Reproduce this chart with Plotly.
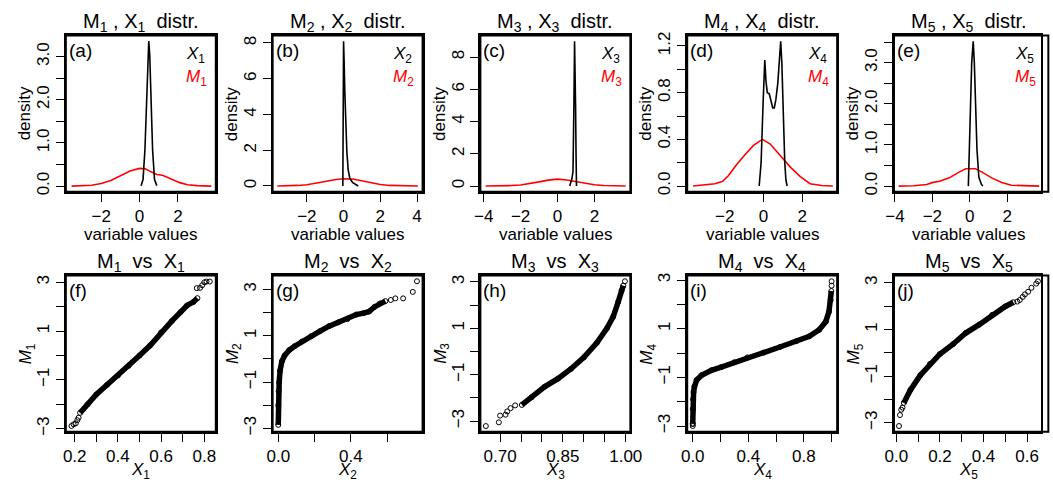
import plotly.graph_objects as go

W, H = 1053, 487

# ---------------- top row: density curves ----------------
a_X_x = [0.08, 0.18, 0.28, 0.33, 0.38, 0.43, 0.48, 0.53, 0.58, 0.63, 0.68, 0.78, 0.90]
a_X_y = [0.01, 0.15, 0.84, 1.50, 2.37, 3.05, 3.36, 3.05, 2.37, 1.50, 0.84, 0.15, 0.01]
a_M_x = [-3.55, -3.0, -2.5, -2.0, -1.5, -1.0, -0.5, 0.0, 0.3, 0.6, 0.9, 1.2, 1.5, 1.8, 2.1, 2.5, 3.0, 3.75]
a_M_y = [0.0, 0.005, 0.02, 0.06, 0.13, 0.24, 0.35, 0.41, 0.40, 0.33, 0.27, 0.25, 0.19, 0.13, 0.08, 0.03, 0.01, 0.0]

b_X_x = [-0.04, -0.01, 0.0, 0.03, 0.07, 0.12, 0.18, 0.25, 0.35, 0.5, 0.65, 0.8]
b_X_y = [0.0, 4.0, 8.1, 7.0, 5.2, 3.3, 1.9, 0.9, 0.4, 0.18, 0.08, 0.0]
b_M_x = [-3.6, -3.0, -2.5, -2.0, -1.5, -1.0, -0.5, 0.0, 0.5, 1.0, 1.5, 2.0, 2.5, 3.0, 3.5, 4.05]
b_M_y = [0.0, 0.01, 0.03, 0.07, 0.14, 0.25, 0.35, 0.40, 0.39, 0.29, 0.17, 0.08, 0.03, 0.01, 0.003, 0.0]

c_X_x = [0.66, 0.71, 0.78, 0.84, 0.87, 0.89, 0.925, 0.95, 0.98, 1.005, 1.03]
c_X_y = [0.0, 0.16, 0.45, 0.9, 2.6, 5.1, 8.98, 7.6, 5.0, 2.0, 0.0]
c_M_x = [-3.9, -3.0, -2.5, -2.0, -1.5, -1.0, -0.5, 0.0, 0.5, 1.0, 1.5, 2.0, 2.5, 3.0, 3.7]
c_M_y = [0.0, 0.01, 0.03, 0.07, 0.15, 0.26, 0.37, 0.43, 0.38, 0.27, 0.16, 0.08, 0.03, 0.01, 0.0]

d_X_x = [-0.22, -0.12, -0.02, 0.07, 0.13, 0.2, 0.3, 0.4, 0.48, 0.56, 0.64, 0.74, 0.82, 0.89, 0.95, 1.02, 1.1, 1.16, 1.22]
d_X_y = [0.0, 0.2, 0.7, 1.08, 0.9, 0.8, 0.79, 0.72, 0.67, 0.67, 0.74, 0.88, 1.1, 1.24, 1.05, 0.62, 0.2, 0.05, 0.0]
d_M_x = [-3.63, -3.0, -2.5, -2.1, -1.8, -1.4, -1.0, -0.5, -0.05, 0.35, 0.7, 1.05, 1.4, 1.9, 2.4, 3.0, 3.58]
d_M_y = [0.0, 0.01, 0.02, 0.04, 0.09, 0.18, 0.26, 0.35, 0.40, 0.36, 0.29, 0.22, 0.16, 0.08, 0.02, 0.005, 0.0]

e_X_x = [-0.08, -0.02, 0.04, 0.1, 0.18, 0.24, 0.3, 0.38, 0.48, 0.56, 0.62, 0.69]
e_X_y = [0.0, 0.8, 2.0, 3.0, 3.52, 3.0, 2.0, 0.9, 0.22, 0.08, 0.04, 0.0]
e_M_x = [-3.8, -3.0, -2.3, -1.97, -1.61, -1.1, -0.57, -0.22, 0.3, 0.65, 1.17, 1.7, 2.22, 3.0, 3.7]
e_M_y = [0.0, 0.01, 0.04, 0.09, 0.12, 0.2, 0.34, 0.42, 0.42, 0.34, 0.2, 0.09, 0.02, 0.005, 0.0]

# ---------------- bottom row: M vs X (dense band + sparse points) ----------------
f_dense_x = [0.225, 0.26, 0.3, 0.35, 0.4, 0.45, 0.5, 0.55, 0.6, 0.65, 0.69, 0.72, 0.75, 0.768]
f_dense_y = [-2.35, -2.0, -1.6, -1.2, -0.82, -0.42, 0.0, 0.42, 0.95, 1.42, 1.78, 2.05, 2.2, 2.35]
f_sparse_x = [0.185, 0.195, 0.205, 0.212, 0.218, 0.765, 0.78, 0.79, 0.80, 0.81, 0.825]
f_sparse_y = [-2.89, -2.82, -2.78, -2.65, -2.55, 2.76, 2.77, 2.88, 3.0, 3.03, 3.03]

g_dense_x = [0.0, 0.0, 0.002, 0.005, 0.01, 0.02, 0.035, 0.06, 0.09, 0.13, 0.18, 0.23, 0.28, 0.33, 0.38, 0.43, 0.47, 0.5, 0.53, 0.56, 0.59]
g_dense_y = [-2.85, -2.0, -1.4, -1.0, -0.5, -0.1, 0.15, 0.38, 0.55, 0.75, 0.98, 1.2, 1.42, 1.58, 1.72, 1.92, 1.98, 2.05, 2.25, 2.4, 2.5]
g_sparse_x = [0.62, 0.645, 0.688, 0.741, 0.764]
g_sparse_y = [2.55, 2.62, 2.62, 2.9, 3.36]

h_dense_x = [0.752, 0.775, 0.806, 0.838, 0.869, 0.90, 0.931, 0.955, 0.970, 0.982, 0.990, 0.994]
h_dense_y = [-2.3, -1.97, -1.52, -1.17, -0.75, -0.25, 0.38, 1.0, 1.5, 2.14, 2.63, 2.84]
h_sparse_x = [0.666, 0.697, 0.700, 0.713, 0.717, 0.725, 0.736, 0.998]
h_sparse_y = [-3.21, -3.05, -2.76, -2.72, -2.58, -2.44, -2.32, 3.03]

i_dense_x = [0.0, 0.0, 0.002, 0.006, 0.012, 0.028, 0.064, 0.134, 0.205, 0.299, 0.393, 0.511, 0.628, 0.746, 0.84, 0.911, 0.958, 0.981, 0.993, 0.998]
i_dense_y = [-2.9, -2.3, -1.9, -1.6, -1.38, -1.11, -0.91, -0.71, -0.58, -0.38, -0.18, 0.02, 0.25, 0.49, 0.69, 0.96, 1.29, 1.7, 2.17, 2.55]
i_sparse_x = [0.0, 0.0, 1.0, 1.0]
i_sparse_y = [-3.0, -2.92, 2.77, 2.95]

j_dense_x = [0.034, 0.0645, 0.11, 0.1545, 0.2, 0.26, 0.32, 0.38, 0.44, 0.50, 0.537]
j_dense_y = [-2.15, -1.59, -0.96, -0.47, -0.05, 0.37, 0.86, 1.21, 1.63, 1.99, 2.17]
j_sparse_x = [0.012, 0.0165, 0.0225, 0.028, 0.555, 0.567, 0.58, 0.59, 0.605, 0.62, 0.642, 0.65]
j_sparse_y = [-3.14, -2.67, -2.44, -2.35, 2.2, 2.27, 2.4, 2.51, 2.62, 2.79, 2.97, 3.07]

# ---------------- ticks ----------------
MINUS = "\u2212"
top_xticks = [[-2, 0, 2], [-2, 0, 2, 4], [-4, -2, 0, 2], [-2, 0, 2], [-4, -2, 0, 2]]
top_yticks = [
    [0, 0.5, 1.0, 1.5, 2.0, 2.5, 3.0],
    [0, 2, 4, 6, 8],
    [0, 2, 4, 6, 8],
    [0, 0.2, 0.4, 0.6, 0.8, 1.0, 1.2],
    [0, 0.5, 1.0, 1.5, 2.0, 2.5, 3.0, 3.5],
]
top_ylabels = [
    ["0.0", " ", "1.0", " ", "2.0", " ", "3.0"],
    ["0", "2", "4", "6", "8"],
    ["0", "2", "4", "6", "8"],
    ["0.0", " ", "0.4", " ", "0.8", " ", "1.2"],
    ["0.0", " ", "1.0", " ", "2.0", " ", "3.0", " "],
]
bot_yticks = [-3, -2, -1, 0, 1, 2, 3]
bot_ylabels = [MINUS + "3", " ", MINUS + "1", " ", "1", " ", "3"]
bot_xticks = [
    [0.2, 0.3, 0.4, 0.5, 0.6, 0.7, 0.8],
    [0.0, 0.2, 0.4, 0.6],
    [0.70, 0.75, 0.80, 0.85, 0.90, 0.95, 1.00],
    [0.0, 0.2, 0.4, 0.6, 0.8, 1.0],
    [0.0, 0.1, 0.2, 0.3, 0.4, 0.5, 0.6],
]
bot_xlabels = [
    ["0.2", " ", "0.4", " ", "0.6", " ", "0.8"],
    ["0.0", " ", "0.4", " "],
    ["0.70", " ", " ", "0.85", " ", " ", "1.00"],
    ["0.0", " ", "0.4", " ", "0.8", " "],
    ["0.0", " ", "0.2", " ", "0.4", " ", "0.6"],
]

top_xrange = [[-3.85, 3.98], [-3.86, 4.3], [-4.18, 3.95], [-3.93, 3.8], [-4.05, 3.8]]
top_yrange = [[-0.134, 3.49], [-0.33, 8.42], [-0.36, 9.34], [-0.05, 1.29], [-0.14, 3.66]]
bot_xrange = [[0.159, 0.853], [-0.031, 0.795], [0.653, 1.011], [-0.04, 1.04], [-0.011, 0.664]]
bot_yrange = [[-3.13, 3.28], [-3.15, 3.61], [-3.46, 3.28], [-3.24, 3.19], [-3.39, 3.32]]

letters_top = ["(a)", "(b)", "(c)", "(d)", "(e)"]
letters_bot = ["(f)", "(g)", "(h)", "(i)", "(j)"]

top_data = [(a_X_x, a_X_y, a_M_x, a_M_y), (b_X_x, b_X_y, b_M_x, b_M_y),
            (c_X_x, c_X_y, c_M_x, c_M_y), (d_X_x, d_X_y, d_M_x, d_M_y),
            (e_X_x, e_X_y, e_M_x, e_M_y)]
bot_data = [(f_dense_x, f_dense_y, f_sparse_x, f_sparse_y),
            (g_dense_x, g_dense_y, g_sparse_x, g_sparse_y),
            (h_dense_x, h_dense_y, h_sparse_x, h_sparse_y),
            (i_dense_x, i_dense_y, i_sparse_x, i_sparse_y),
            (j_dense_x, j_dense_y, j_sparse_x, j_sparse_y)]

# ---------------- layout geometry (pixels) ----------------
BOX_L = [58, 269, 481, 692, 903]
BOX_W = 153
TOP_T, TOP_B = 32, 191
BOT_T, BOT_B = 276, 435

FONT = "Liberation Sans, Arial, sans-serif"
TICKF = dict(family=FONT, size=17, color="black")

fig = go.Figure()
layout = dict(
    width=W, height=H, margin=dict(l=0, r=0, t=0, b=0),
    paper_bgcolor="white", plot_bgcolor="rgba(0,0,0,0)", showlegend=False,
    font=dict(family=FONT, color="black"),
)
annotations = []
shapes = []


def ax_name(idx):
    return "" if idx == 0 else str(idx + 1)


def add_ann(text, px, py, size=17, color="black", angle=0, xanchor="center", yanchor="middle"):
    annotations.append(dict(
        text=text, x=px / W, y=1 - py / H, xref="paper", yref="paper",
        showarrow=False, textangle=angle, xanchor=xanchor, yanchor=yanchor,
        font=dict(family=FONT, size=size, color=color),
    ))


for row in range(2):
    for col in range(5):
        idx = row * 5 + col
        n = ax_name(idx)
        left = BOX_L[col]
        right = min(left + BOX_W, W)
        t, b = (TOP_T, TOP_B) if row == 0 else (BOT_T, BOT_B)
        if row == 0:
            xt = top_xticks[col]
            xl = [str(v).replace("-", MINUS) for v in xt]
            yt, yl = top_yticks[col], top_ylabels[col]
            xr, yr = top_xrange[col], top_yrange[col]
        else:
            xt, xl = bot_xticks[col], bot_xlabels[col]
            yt, yl = bot_yticks, bot_ylabels
            xr, yr = bot_xrange[col], bot_yrange[col]
        common = dict(showline=True, mirror=True, linecolor="#000000", linewidth=2,
                      ticks="outside", ticklen=8, tickwidth=1.2, tickcolor="#000000",
                      showgrid=False, zeroline=False, tickfont=TICKF, tickmode="array",
                      layer="above traces")
        layout["xaxis" + n] = dict(common, domain=[left / W, right / W], range=xr,
                                   tickvals=xt, ticktext=xl, anchor="y" + n)
        layout["yaxis" + n] = dict(common, domain=[1 - b / H, 1 - t / H], range=yr,
                                   tickvals=yt, ticktext=yl, anchor="x" + n, tickangle=-90)
        # frame rectangle, in axis-domain units, drawn above the traces
        shapes.append(dict(type="rect", xref=f"x{n} domain", yref=f"y{n} domain",
                           x0=0, x1=1.0 if col < 4 else 1.05, y0=0, y1=1,
                           line=dict(color="#000000", width=2), layer="above"))

        xa, ya = "x" + n, "y" + n
        k = col + 1
        cx = (left + left + BOX_W) / 2
        if row == 0:
            xX, yX, xM, yM = top_data[col]
            fig.add_trace(go.Scatter(x=xM, y=yM, mode="lines", xaxis=xa, yaxis=ya,
                                     line=dict(color="#ff0000", width=1.6)))
            fig.add_trace(go.Scatter(x=xX, y=yX, mode="lines", xaxis=xa, yaxis=ya,
                                     line=dict(color="black", width=1.6)))
            add_ann(f"M<sub>{k}</sub> , X<sub>{k}</sub>\u00a0\u00a0distr.", cx, 19, size=20)
            add_ann("variable values", cx, 234)
            add_ann("density", left - 42, (t + b) / 2, angle=-90)
            add_ann(letters_top[col], left + 1, t + 15, size=19, xanchor="left")
            add_ann(f"<i>X</i><sub>{k}</sub>", left + BOX_W - 32, t + 20, size=17, xanchor="left")
            add_ann(f"<i>M</i><sub>{k}</sub>", left + BOX_W - 32, t + 43, size=17,
                    color="#ff0000", xanchor="left")
        else:
            dx, dy, sx, sy = bot_data[col]
            fig.add_trace(go.Scatter(x=dx, y=dy, mode="lines+markers", xaxis=xa, yaxis=ya,
                                     line=dict(color="black", width=5.5),
                                     marker=dict(symbol="circle-open", size=5, color="black",
                                                 line=dict(width=1, color="black"))))
            fig.add_trace(go.Scatter(x=sx, y=sy, mode="markers", xaxis=xa, yaxis=ya,
                                     marker=dict(symbol="circle-open", size=5, color="black",
                                                 line=dict(width=1, color="black"))))
            add_ann(f"M<sub>{k}</sub>\u00a0\u00a0vs\u00a0\u00a0X<sub>{k}</sub>", cx, 263, size=20)
            add_ann(f"<i>X</i><sub>{k}</sub>", cx, 475)
            add_ann(f"<i>M</i><sub>{k}</sub>", left - 40, (t + b) / 2, angle=-90)
            add_ann(letters_bot[col], left + 1, t + 15, size=19, xanchor="left")

layout["annotations"] = annotations
layout["shapes"] = shapes
fig.update_layout(**layout)
fig.write_html("out.html")
